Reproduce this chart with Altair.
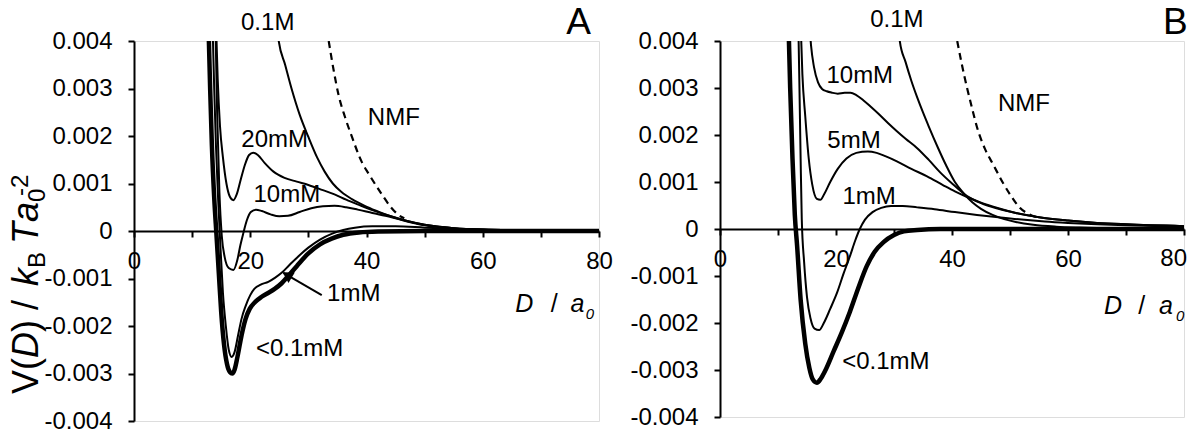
import altair as alt
import pandas as pd

# ---------------- Panel A (V in units of 1e-3 kBT a0^-2) ----------------
A_lt01_D = [12.8, 13.1, 13.4, 13.8, 14.2, 14.6, 15.0, 15.5, 16.0, 16.5, 16.9, 17.3, 17.8, 18.5, 19.2, 19.9, 20.8, 21.9, 23.0, 24.2, 25.4, 26.6, 28.0, 30.0, 32.0, 34.0, 36.0, 38.7, 42.0, 50.0, 80.0]
A_lt01_V = [4.4, 3.0, 1.8, 0.7, -0.1, -0.9, -1.7, -2.4, -2.8, -2.97, -3.0, -2.92, -2.65, -2.2, -1.85, -1.64, -1.5, -1.39, -1.31, -1.22, -1.1, -0.94, -0.74, -0.47, -0.28, -0.16, -0.08, -0.03, -0.01, 0.0, 0.0]

A_1mM_D = [13.5, 13.8, 14.1, 14.5, 14.9, 15.3, 15.8, 16.3, 16.8, 17.3, 17.9, 18.5, 19.2, 20.0, 20.7, 21.8, 23.1, 24.3, 25.4, 26.7, 28.3, 30.0, 32.0, 34.0, 36.0, 38.0, 41.0, 45.0, 50.0, 55.0, 60.0, 70.0, 80.0]
A_1mM_V = [4.4, 3.0, 1.8, 0.6, -0.4, -1.3, -2.0, -2.5, -2.65, -2.55, -2.2, -1.85, -1.58, -1.35, -1.22, -1.13, -1.07, -0.98, -0.88, -0.72, -0.53, -0.35, -0.18, -0.06, 0.02, 0.07, 0.1, 0.1, 0.07, 0.04, 0.02, 0.01, 0.0]

A_10mM_D = [14.0, 14.3, 14.7, 15.1, 15.6, 16.3, 17.1, 17.8, 18.3, 18.8, 19.4, 20.1, 21.0, 22.0, 23.5, 25.0, 26.5, 28.5, 30.5, 32.5, 34.5, 36.5, 38.5, 41.0, 44.0, 47.0, 50.0, 55.0, 60.0, 70.0, 80.0]
A_10mM_V = [4.4, 2.5, 0.8, -0.1, -0.55, -0.78, -0.82, -0.6, -0.3, -0.05, 0.22, 0.4, 0.45, 0.42, 0.35, 0.31, 0.32, 0.4, 0.48, 0.52, 0.53, 0.5, 0.45, 0.38, 0.3, 0.2, 0.12, 0.06, 0.03, 0.01, 0.0]

A_20mM_D = [14.1, 14.4, 14.8, 15.3, 15.9, 16.5, 17.1, 17.7, 18.4, 19.1, 19.8, 20.5, 21.3, 22.5, 24.0, 25.9, 28.0, 30.0, 32.5, 34.5, 36.5, 38.7, 41.0, 43.9, 47.0, 50.0, 55.0, 60.0, 70.0, 80.0]
A_20mM_V = [4.4, 3.2, 2.2, 1.55, 1.0, 0.72, 0.65, 0.78, 1.1, 1.4, 1.6, 1.65, 1.6, 1.43, 1.25, 1.12, 1.04, 0.97, 0.86, 0.77, 0.66, 0.55, 0.44, 0.32, 0.21, 0.13, 0.06, 0.03, 0.01, 0.0]

A_01M_D = [24.5, 24.9, 26.0, 27.1, 28.5, 30.0, 31.5, 32.8, 34.2, 35.7, 37.5, 39.7, 41.8, 43.9, 47.0, 50.0, 55.0, 60.0, 70.0, 80.0]
A_01M_V = [4.4, 4.0, 3.5, 3.0, 2.45, 1.98, 1.55, 1.25, 1.0, 0.82, 0.67, 0.53, 0.42, 0.32, 0.21, 0.13, 0.06, 0.03, 0.01, 0.0]

A_NMF_D = [33.5, 34.4, 35.2, 36.3, 37.5, 39.2, 40.4, 42.7, 44.2, 45.6, 46.5]
A_NMF_V = [4.0, 3.35, 2.86, 2.4, 1.98, 1.45, 1.2, 0.76, 0.5, 0.33, 0.27]

# ---------------- Panel B ----------------
B_lt01_D = [11.8, 12.1, 12.5, 12.9, 13.3, 13.9, 14.7, 15.4, 16.0, 16.7, 17.4, 18.2, 19.6, 21.0, 22.4, 23.8, 25.3, 26.7, 28.2, 30.0, 31.7, 34.0, 38.0, 80.0]
B_lt01_V = [4.4, 3.0, 1.5, 0.3, -0.37, -1.5, -2.44, -2.95, -3.2, -3.27, -3.18, -3.0, -2.6, -2.2, -1.76, -1.27, -0.79, -0.48, -0.28, -0.13, -0.05, -0.02, 0.0, 0.0]

B_1mM_D = [13.5, 13.7, 13.9, 14.1, 14.5, 15.0, 15.6, 16.3, 17.1, 17.9, 19.0, 20.2, 21.3, 22.4, 23.3, 24.1, 25.0, 26.3, 27.8, 29.5, 31.5, 34.0, 37.0, 40.5, 44.3, 48.0, 52.0, 56.0, 60.0, 65.0, 70.0, 80.0]
B_1mM_V = [4.4, 3.0, 1.5, 0.2, -0.7, -1.45, -1.9, -2.12, -2.15, -2.0, -1.7, -1.35, -0.95, -0.58, -0.25, 0.0, 0.2, 0.36, 0.45, 0.49, 0.49, 0.46, 0.42, 0.36, 0.3, 0.25, 0.2, 0.16, 0.13, 0.1, 0.08, 0.05]

B_5mM_D = [13.9, 14.2, 14.7, 15.3, 15.9, 16.7, 17.3, 18.0, 19.0, 20.3, 21.8, 23.5, 25.5, 27.0, 28.5, 30.5, 33.0, 35.7, 38.5, 40.5, 42.6, 45.0, 48.0, 51.0, 55.0, 60.0, 65.0, 70.0, 80.0]
B_5mM_V = [4.4, 3.3, 2.4, 1.5, 0.95, 0.64, 0.62, 0.75, 1.0, 1.28, 1.5, 1.62, 1.65, 1.62, 1.55, 1.44, 1.28, 1.12, 0.93, 0.8, 0.68, 0.56, 0.44, 0.34, 0.25, 0.18, 0.13, 0.1, 0.06]

B_10mM_D = [15.4, 15.7, 16.2, 16.9, 17.6, 18.4, 19.3, 20.3, 21.5, 22.5, 23.5, 24.7, 26.0, 27.5, 29.0, 30.5, 32.0, 34.0, 36.0, 38.0, 40.0, 42.6, 45.0, 48.0, 51.0, 55.0, 60.0, 65.0, 70.0, 80.0]
B_10mM_V = [4.4, 3.9, 3.45, 3.12, 2.98, 2.93, 2.9, 2.88, 2.9, 2.9, 2.85, 2.74, 2.6, 2.43, 2.25, 2.08, 1.92, 1.72, 1.47, 1.2, 0.97, 0.7, 0.55, 0.43, 0.34, 0.25, 0.18, 0.13, 0.1, 0.06]

B_01M_D = [30.7, 31.0, 32.0, 33.0, 34.0, 35.0, 36.0, 37.5, 39.0, 40.5, 42.0, 43.5, 45.0, 47.0, 49.0, 51.0, 54.0, 58.0, 62.0, 70.0, 80.0]
B_01M_V = [4.4, 4.0, 3.55, 3.15, 2.8, 2.48, 2.18, 1.75, 1.35, 1.0, 0.76, 0.57, 0.43, 0.3, 0.21, 0.15, 0.09, 0.05, 0.03, 0.01, 0.0]

B_NMF_D = [40.9, 41.7, 42.6, 43.5, 44.3, 45.7, 47.2, 48.7, 50.2, 51.7, 53.2, 54.6]
B_NMF_V = [4.0, 3.5, 3.0, 2.55, 2.17, 1.7, 1.35, 1.0, 0.7, 0.45, 0.32, 0.25]

# ---------------- Labels (data coordinates) ----------------
A_lab_text = ["0.1M", "20mM", "10mM", "NMF", "1mM", "<0.1mM"]
A_lab_D = [23.0, 24.2, 26.3, 44.7, 37.8, 28.5]
A_lab_V = [4.38, 1.92, 0.76, 2.37, -1.33, -2.49]

B_lab_text = ["0.1M", "10mM", "5mM", "1mM", "NMF", "<0.1mM"]
B_lab_D = [30.5, 24.1, 23.1, 25.7, 52.4, 28.6]
B_lab_V = [4.45, 3.25, 1.88, 0.68, 2.65, -2.84]

X_TICKS = list(range(0, 81, 10))
Y_TICKS = [-0.004, -0.003, -0.002, -0.001, 0, 0.001, 0.002, 0.003, 0.004]

FONT = "Liberation Sans"


def frame(D, V, name):
    return pd.DataFrame({"D": D, "V": [v * 1e-3 for v in V], "series": name})


def panel(thick, thins, dashed, lab_text, lab_D, lab_V, letter, letter_D,
          xt_D, xt_V, width, height, arrow=None, ytitle=None, last_label_inside=False):
    xs = alt.Scale(domain=[0, 80], nice=False, zero=False)
    ys = alt.Scale(domain=[-0.004, 0.004], nice=False, zero=False)
    if last_label_inside:
        lexpr = "datum.value % 20 == 0 && datum.value < 80 ? datum.label : ''"
    else:
        lexpr = "datum.value % 20 == 0 ? datum.label : ''"
    xax = alt.Axis(values=X_TICKS, labelExpr=lexpr,
                   tickSize=6, tickWidth=2, tickColor="black",
                   domainWidth=2, domainColor="black",
                   labelFont=FONT, labelFontSize=24, labelColor="black",
                   labelPadding=12, labelFlush=False, labelOverlap=False,
                   labelAngle=0, grid=False, title=None,
                   offset=-height / 2)
    yax = alt.Axis(values=Y_TICKS,
                   labelExpr="datum.value == 0 ? '0' : (datum.value < 0 ? '-' + format(-datum.value, '.3f') : format(datum.value, '.3f'))",
                   tickSize=6, tickWidth=2, tickColor="black",
                   domainWidth=2, domainColor="black",
                   labelFont=FONT, labelFontSize=24, labelColor="black",
                   labelPadding=16, labelFlush=False, labelOverlap=False,
                   grid=False, title=None)
    X = alt.X("D:Q", scale=xs, axis=xax)
    Y = alt.Y("V:Q", scale=ys, axis=yax)

    thin_df = pd.concat(thins, ignore_index=True)
    layers = [
        alt.Chart(thin_df).mark_line(color="black", strokeWidth=2, clip=True,
                                     interpolate="monotone").encode(x=X, y=Y, detail="series:N"),
        alt.Chart(dashed).mark_line(color="black", strokeWidth=2.2, strokeDash=[7, 5], clip=True,
                                    interpolate="monotone").encode(x=X, y=Y),
        alt.Chart(thick).mark_line(color="black", strokeWidth=4.5, clip=True,
                                   interpolate="monotone").encode(x=X, y=Y),
    ]
    labs = pd.DataFrame({"D": lab_D, "V": [v * 1e-3 for v in lab_V], "t": lab_text})
    layers.append(alt.Chart(labs).mark_text(font=FONT, fontSize=24, color="black",
                                             align="center", baseline="middle")
                  .encode(x=X, y=Y, text="t:N"))
    let = pd.DataFrame({"D": [letter_D], "V": [4.38e-3], "t": [letter]})
    layers.append(alt.Chart(let).mark_text(font=FONT, fontSize=37, color="black",
                                            align="center", baseline="middle")
                  .encode(x=X, y=Y, text="t:N"))
    if last_label_inside:
        l80 = pd.DataFrame({"D": [80], "V": [0.0], "t": ["80"]})
        layers.append(alt.Chart(l80).mark_text(font=FONT, fontSize=24, color="black",
                                                align="right", baseline="top", dx=3, dy=18)
                      .encode(x=X, y=Y, text="t:N"))
    # x axis title: D / a0
    it = pd.DataFrame({"D": [xt_D[0], xt_D[2]], "V": [xt_V * 1e-3] * 2, "t": ["D", "a"]})
    layers.append(alt.Chart(it).mark_text(font=FONT, fontSize=25, fontStyle="italic", color="black",
                                           align="left", baseline="alphabetic")
                  .encode(x=X, y=Y, text="t:N"))
    sl = pd.DataFrame({"D": [xt_D[1]], "V": [xt_V * 1e-3], "t": ["/"]})
    layers.append(alt.Chart(sl).mark_text(font=FONT, fontSize=25, color="black",
                                           align="left", baseline="alphabetic")
                  .encode(x=X, y=Y, text="t:N"))
    sb = pd.DataFrame({"D": [xt_D[3]], "V": [(xt_V - 0.15) * 1e-3], "t": ["0"]})
    layers.append(alt.Chart(sb).mark_text(font=FONT, fontSize=15, fontStyle="italic", color="black",
                                           align="left", baseline="alphabetic")
                  .encode(x=X, y=Y, text="t:N"))
    if arrow is not None:
        ad = pd.DataFrame({"D": [arrow[0]], "V": [arrow[1] * 1e-3],
                           "D2": [arrow[2]], "V2": [arrow[3] * 1e-3]})
        layers.append(alt.Chart(ad).mark_rule(color="black", strokeWidth=2)
                      .encode(x=X, y=Y, x2="D2:Q", y2="V2:Q"))
        hd = pd.DataFrame({"D": [arrow[4]], "V": [arrow[5] * 1e-3]})
        layers.append(alt.Chart(hd).mark_point(shape="triangle", filled=True, size=150,
                                                angle=301, color="black", opacity=1)
                      .encode(x=X, y=Y))
    if ytitle is not None:
        one = pd.DataFrame({"k": [0]})
        for txt, px, py, fs, style in ytitle:
            mk = dict(font=FONT, fontSize=fs, color="black", angle=270,
                      align="left", baseline="alphabetic")
            if style:
                mk["fontStyle"] = style
            layers.append(alt.Chart(one).mark_text(**mk)
                          .encode(x=alt.value(px), y=alt.value(py), text=alt.value(txt)))
    return alt.layer(*layers).properties(width=width, height=height)


# y-axis title pieces (text, x, y relative to left plot origin, size, style)
OX, OY = 133, 40
MAIN_X, SUB_X, SUP_X = 37, 44, 27
FM, FS = 36, 24
pieces = [("V(", MAIN_X, FM, None, 1.0 * FM),
          ("D", MAIN_X, FM, "italic", 0.722 * FM),
          (") / ", MAIN_X, FM, None, 1.167 * FM + 4),
          ("k", MAIN_X, FM, "italic", 0.5 * FM),
          ("B", SUB_X, FS, None, 0.667 * FS + 8),
          ("T", MAIN_X, FM, "italic", 0.611 * FM),
          ("a", MAIN_X, FM, "italic", 0.556 * FM)]
yt = []
cur = 393
for txt, px, fs, st, adv in pieces:
    yt.append((txt, px - OX, cur - OY, fs, st))
    cur -= adv
yt.append(("0", SUB_X - OX, cur - OY, FS, None))
yt.append(("-2", SUP_X - OX, cur - 6 - OY, FS, None))

left = panel(frame(A_lt01_D, A_lt01_V, "<0.1mM"),
             [frame(A_1mM_D, A_1mM_V, "1mM"), frame(A_10mM_D, A_10mM_V, "10mM"),
              frame(A_20mM_D, A_20mM_V, "20mM"), frame(A_01M_D, A_01M_V, "0.1M")],
             frame(A_NMF_D, A_NMF_V, "NMF"),
             A_lab_text, A_lab_D, A_lab_V, "A", 76.5,
             [65.6, 71.7, 75.1, 77.7], -1.7, 465, 380,
             arrow=(32.3, -1.35, 25.7, -0.88, 26.6, -0.945), ytitle=yt)

right = panel(frame(B_lt01_D, B_lt01_V, "<0.1mM"),
              [frame(B_1mM_D, B_1mM_V, "1mM"), frame(B_5mM_D, B_5mM_V, "5mM"),
               frame(B_10mM_D, B_10mM_V, "10mM"), frame(B_01M_D, B_01M_V, "0.1M")],
              frame(B_NMF_D, B_NMF_V, "NMF"),
              B_lab_text, B_lab_D, B_lab_V, "B", 78.5,
              [66.2, 72.1, 75.7, 78.6], -1.8, 464, 376, last_label_inside=True)

chart = alt.hconcat(left, right, spacing=16).properties(
    padding={"left": 0, "top": -5, "right": 0, "bottom": -3}
).configure_view(stroke=None).configure(background="white")

chart.save("out.html", embed_options={"renderer": "svg", "actions": False})
